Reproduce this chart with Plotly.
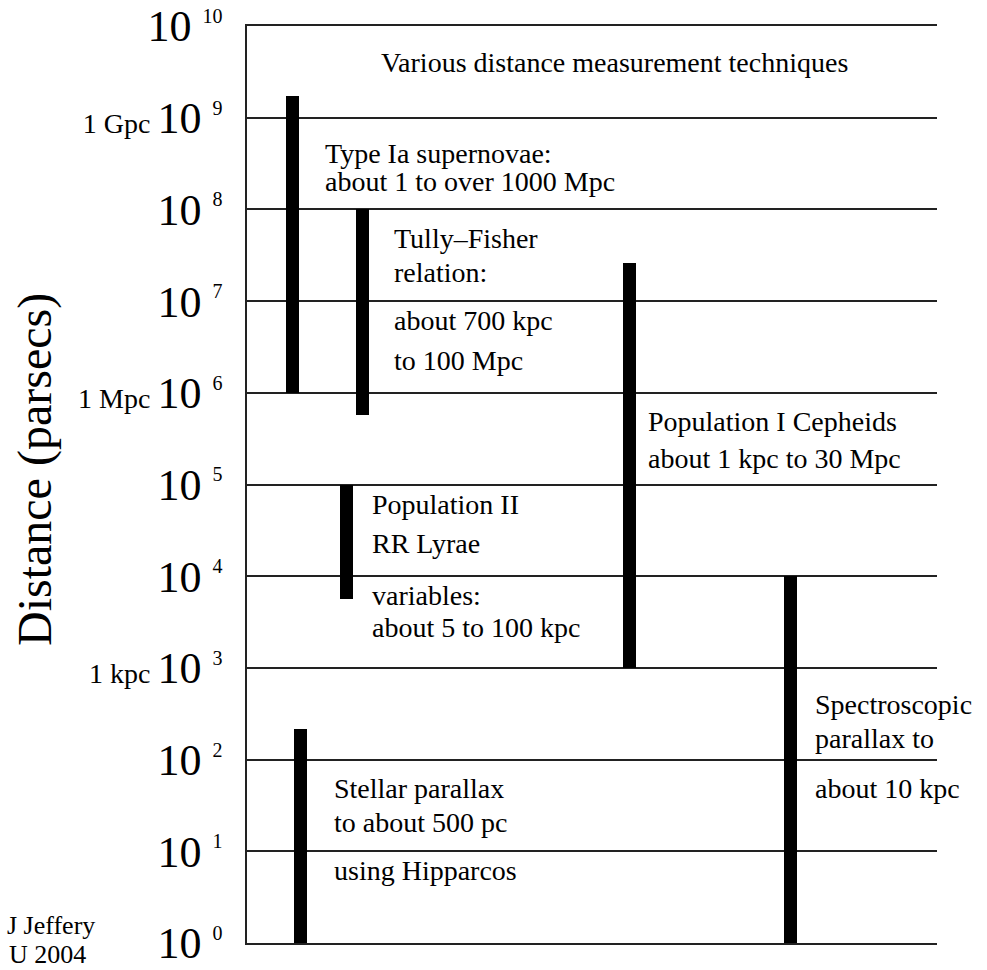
import plotly.graph_objects as go

# ---------------- data ----------------
techniques = ["Type Ia supernovae", "Tully-Fisher relation", "Population II RR Lyrae",
              "Population I Cepheids", "Stellar parallax", "Spectroscopic parallax"]
range_low_pc = [1.0e6, 5.7e5, 5.7e3, 1.0e3, 1.0, 1.0]
range_high_pc = [1.72e9, 1.0e8, 1.0e5, 2.6e7, 218.0, 1.0e4]
column_pos = [45.5, 115.3, 99.7, 382.5, 53.7, 543.5]   # horizontal placement (px units of plot width)

tick_exponents = list(range(0, 11))
tick_units = {9: "1 Gpc", 6: "1 Mpc", 3: "1 kpc"}

# ---------------- layout helpers ----------------
W, H = 987, 970
PL, PR, PT, PB = 247, 937, 26, 943
FONT = "Liberation Serif, Times New Roman, serif"
FS = 28


def px(x):
    return (x - PL) / (PR - PL)


def py(y):
    return (PB - y) / (PB - PT)


tickvals = [10 ** e for e in tick_exponents]
ticktext = []
for e in tick_exponents:
    base = "10&nbsp;<sup><span style='font-size:20px'>%d</span></sup>" % e
    if e in tick_units:
        base = "<span style='font-size:28px'>%s&nbsp;</span>" % tick_units[e] + base
    ticktext.append(base)

fig = go.Figure()
fig.add_trace(go.Bar(
    x=column_pos,
    y=[h - l for h, l in zip(range_high_pc, range_low_pc)],
    base=range_low_pc,
    width=13.3,
    marker=dict(color="black", line=dict(width=0)),
    hovertext=techniques,
    showlegend=False,
))

# text labels: (text, left px, baseline px)
labels = [
    ("Various distance measurement techniques", 379, 72),
    ("Type Ia supernovae:", 323, 163),
    ("about 1 to over 1000 Mpc", 323, 191),
    ("Tully\u2013Fisher", 392, 248),
    ("relation:", 392, 282),
    ("about 700 kpc", 392, 330),
    ("to 100 Mpc", 392, 370),
    ("Population I Cepheids", 646, 431),
    ("about 1 kpc to 30 Mpc", 646, 468),
    ("Population II", 370, 514),
    ("RR Lyrae", 370, 553),
    ("variables:", 370, 605),
    ("about 5 to 100 kpc", 370, 637),
    ("Spectroscopic", 813, 714),
    ("parallax to", 813, 748),
    ("about 10 kpc", 813, 798),
    ("Stellar parallax", 332, 798),
    ("to about 500 pc", 332, 832),
    ("using Hipparcos", 332, 880),
]
ann = []
for t, x, b in labels:
    ann.append(dict(text=t, x=px(x), y=py(b - 9.5), xref="paper", yref="paper",
                    xanchor="left", yanchor="middle", showarrow=False,
                    font=dict(family=FONT, size=FS, color="black")))

# credit (bottom left)
for t, xr, b in [("J Jeffery", 97, 934), ("U 2004", 88, 963)]:
    ann.append(dict(text=t, x=px(xr), y=py(b - 8.8), xref="paper", yref="paper",
                    xanchor="right", yanchor="middle", showarrow=False,
                    font=dict(family=FONT, size=26, color="black")))

# y axis title
ann.append(dict(text="Distance (parsecs)", x=px(35), y=py(469), xref="paper", yref="paper",
                xanchor="center", yanchor="middle", textangle=-90, showarrow=False,
                font=dict(family=FONT, size=48, color="black")))

fig.update_layout(
    width=W, height=H,
    margin=dict(l=PL, r=W - PR, t=PT, b=H - PB, pad=0, autoexpand=False),
    paper_bgcolor="white", plot_bgcolor="white",
    font=dict(family=FONT, color="black"),
    annotations=ann,
    bargap=0,
)
fig.update_xaxes(range=[0, PR - PL], showgrid=False, zeroline=False, showticklabels=False,
                 automargin=False,
                 ticks="", showline=True, mirror=True, linecolor="#222", linewidth=1.5)
fig.update_yaxes(type="log", range=[0, 10], tickvals=tickvals, ticktext=ticktext,
                 tickfont=dict(family=FONT, size=44, color="black"), ticks="",
                 ticklabelstandoff=14, automargin=False,
                 showgrid=True, gridcolor="#222", gridwidth=1.5, zeroline=False,
                 showline=True, linecolor="#222", linewidth=1.5)

fig.write_html("out.html", config={"displayModeBar": False},
               post_script="document.body.style.margin='0';document.body.style.overflow='hidden';")
